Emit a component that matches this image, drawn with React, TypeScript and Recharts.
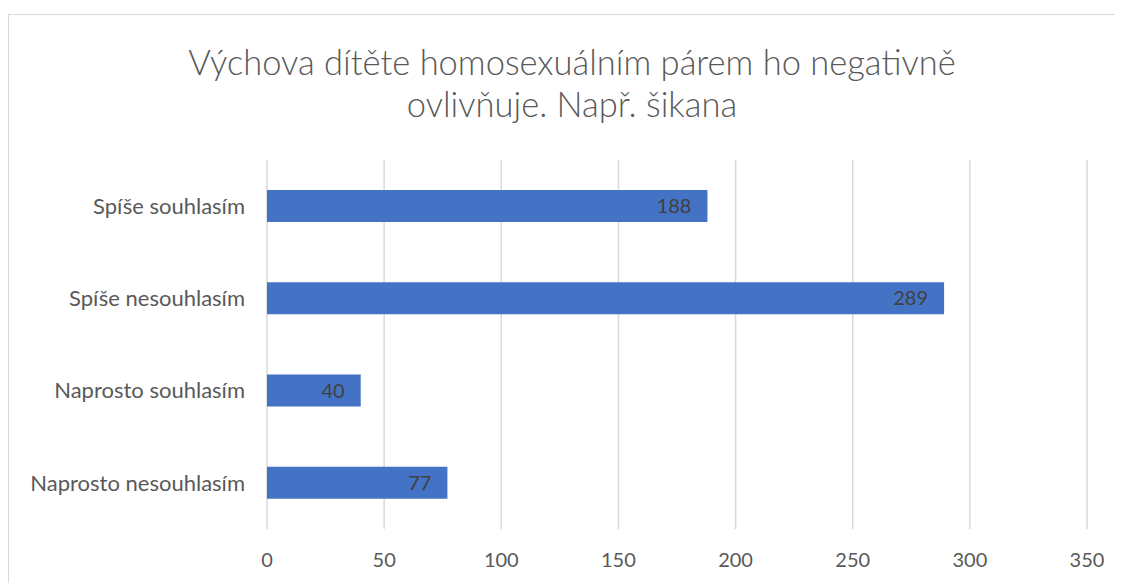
import React from "react";
import { BarChart, Bar, XAxis, YAxis, CartesianGrid, LabelList } from "recharts";

const categories = ["Spíše souhlasím", "Spíše nesouhlasím", "Naprosto souhlasím", "Naprosto nesouhlasím"];
const counts = [188, 289, 40, 77];
const xTicks = [0, 50, 100, 150, 200, 250, 300, 350];
const titleLines = ["Výchova dítěte homosexuálním párem ho negativně", "ovlivňuje. Např. šikana"];

const data = categories.map((name, i) => ({ name, value: counts[i] }));

const FONT = "Lato, 'Open Sans', sans-serif";

export default function App() {
  return (
    <div
      style={{
        position: "relative",
        marginTop: 6,
        width: 1110,
        height: 575,
        border: "1px solid #d9d9d9",
        background: "#fff",
        fontFamily: FONT,
      }}
    >
      <div
        style={{
          position: "absolute",
          top: 26,
          left: 0,
          width: 1126,
          textAlign: "center",
          color: "#595959",
          fontSize: 34.5,
          fontWeight: 300,
          lineHeight: "42px",
        }}
      >
        {titleLines.map((t) => (
          <div key={t}>{t}</div>
        ))}
      </div>
      <BarChart
        width={1110}
        height={570}
        data={data}
        layout="vertical"
        margin={{ top: 145, right: 32, bottom: 26, left: 0 }}
      >
        <CartesianGrid horizontal={false} stroke="#d9d9d9" strokeWidth={1.5} />
        <XAxis
          type="number"
          domain={[0, 350]}
          ticks={xTicks}
          axisLine={false}
          tickLine={false}
          tickMargin={18}
          tick={{ fill: "#595959", fontSize: 20, fontFamily: FONT }}
        />
        <YAxis
          type="category"
          dataKey="name"
          width={258}
          axisLine={false}
          tickLine={false}
          tickMargin={16}
          tick={{ fill: "#595959", fontSize: 22, fontFamily: FONT }}
        />
        <Bar dataKey="value" fill="#4472C4" barSize={32} isAnimationActive={false}>
          <LabelList
            dataKey="value"
            position="insideRight"
            offset={16}
            fill="#404040"
            fontSize={20}
            fontFamily={FONT}
          />
        </Bar>
      </BarChart>
    </div>
  );
}
